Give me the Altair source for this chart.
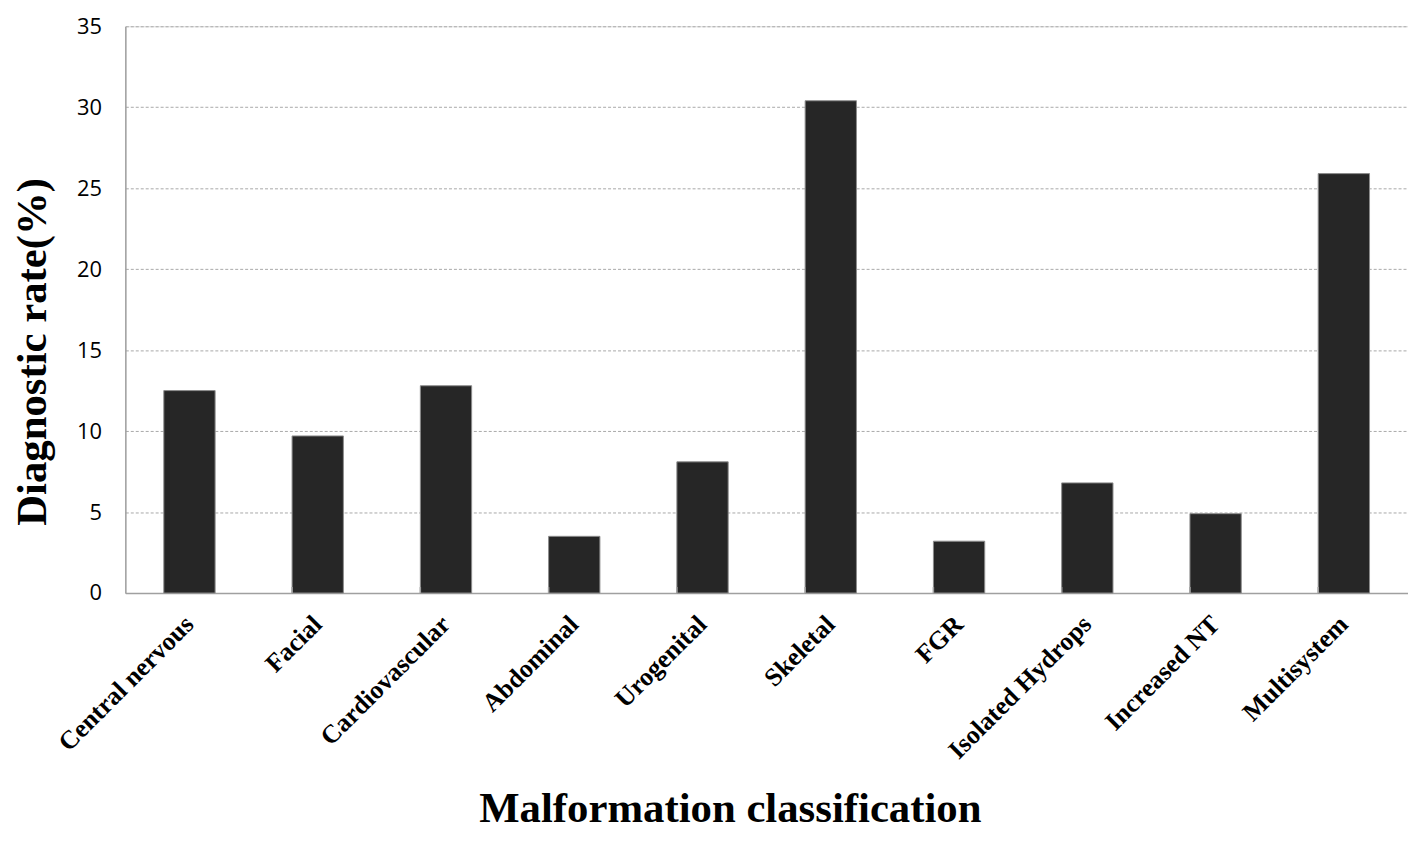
import altair as alt
import pandas as pd

categories = ["Central nervous", "Facial", "Cardiovascular", "Abdominal", "Urogenital",
              "Skeletal", "FGR", "Isolated Hydrops", "Increased NT", "Multisystem"]
rates = [12.5, 9.7, 12.8, 3.5, 8.1, 30.4, 3.2, 6.8, 4.9, 25.9]
y_ticks = [0, 5, 10, 15, 20, 25, 30, 35]

df = pd.DataFrame({"cat": categories, "rate": rates})

W, H = 1290, 570

x_scale = alt.Scale(domain=categories, paddingInner=0.6, paddingOuter=0.3)
y_scale = alt.Scale(domain=[0, 35], nice=False)

bars = alt.Chart(df).mark_bar(color="#262626", stroke="#8c8c8c", strokeWidth=1).encode(
    x=alt.X("cat:N", scale=x_scale, sort=categories,
            axis=alt.Axis(title="Malformation classification", labelAngle=-45,
                          labelAlign="right", labelBaseline="middle", labelPadding=27,
                          labelFont="Liberation Serif", labelFontWeight="bold",
                          labelFontSize=26, labelColor="#000000", labelLimit=0,
                          ticks=False, domainColor="#a0a0a0", domainWidth=1.5,
                          titleFont="Liberation Serif", titleFontWeight="bold",
                          titleFontSize=43, titleColor="#000000",
                          titleX=608, titleY=230, titleBaseline="alphabetic",
                          titleAlign="center", labelOverlap=False)),
    y=alt.Y("rate:Q", scale=y_scale,
            axis=alt.Axis(title="Diagnostic rate(%)", values=y_ticks, ticks=False,
                          labelFont="Open Sans", labelFontSize=22, labelColor="#000000",
                          labelPadding=24, domainColor="#a0a0a0", domainWidth=1.5,
                          grid=True, gridColor="#a8a8a8", gridDash=[3, 2], gridWidth=1,
                          titleFont="Liberation Serif", titleFontWeight="bold",
                          titleFontSize=43, titleColor="#000000", titleAngle=-90,
                          titleX=-80, titleY=327, titleBaseline="alphabetic",
                          titleAlign="center")),
)

ticks = alt.Chart(df.iloc[1:]).mark_rule(color="#a0a0a0", strokeWidth=1.5).encode(
    x=alt.X("cat:N", scale=x_scale, sort=categories, bandPosition=0),
    y=alt.value(H),
    y2=alt.value(H - 6),
)

chart = alt.layer(bars, ticks).properties(
    width=W, height=H,
    autosize=alt.AutoSizeParams(type="none"),
    padding={"left": 118, "top": 16, "right": 0, "bottom": 240},
).configure_view(stroke=None).configure(background="white")

chart.save("out.html", embed_options={"renderer": "svg", "actions": False})
